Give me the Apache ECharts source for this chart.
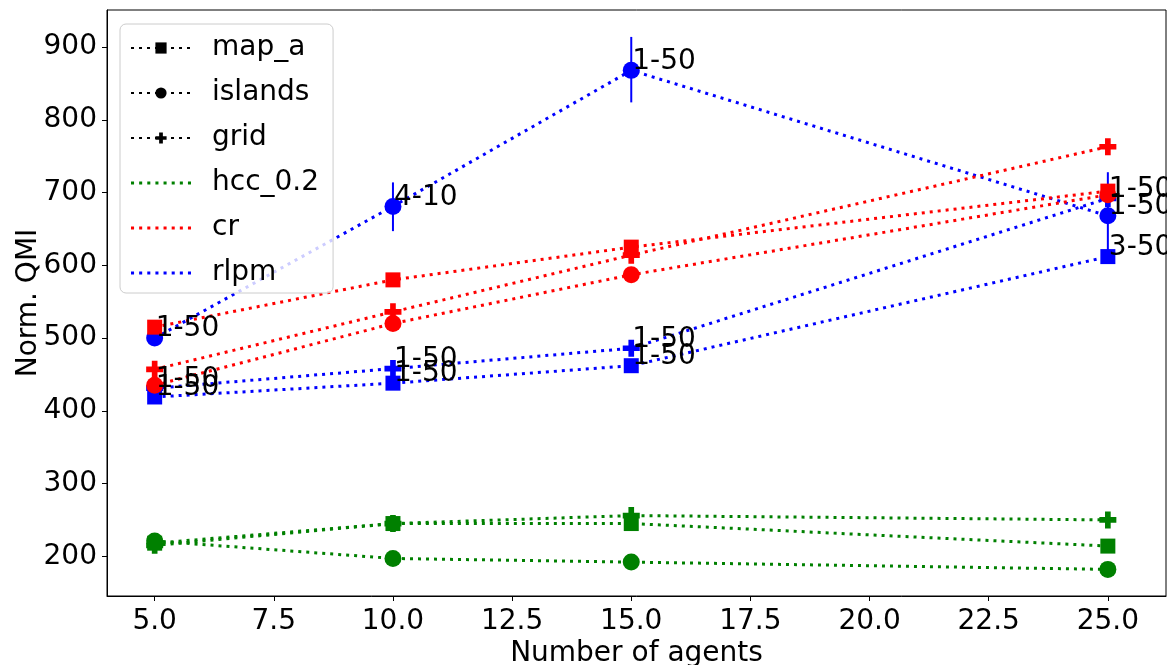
<!DOCTYPE html>
<html>
<head>
<meta charset="utf-8">
<script src="https://cdn.jsdelivr.net/npm/echarts@6/dist/echarts.min.js"></script>
<style>html,body{margin:0;padding:0;background:#fff}#c{width:1176px;height:665px}</style>
</head>
<body>
<div id="c"></div>
<script>
// ---- data ----
var agents = [5, 10, 15, 25];
var xTicks = [5, 7.5, 10, 12.5, 15, 17.5, 20, 22.5, 25];
var yTicks = [200, 300, 400, 500, 600, 700, 800, 900];

var rlpmMapA    = [419, 438, 462, 612];
var rlpmIslands = [500, 681, 868, 668];
var rlpmGrid    = [431, 458, 486, 692];
var crMapA      = [515, 580, 625, 702];
var crIslands   = [435, 520, 587, 697];
var crGrid      = [457, 536, 614, 763];
var hccMapA     = [218, 245, 245, 214];
var hccIslands  = [221, 197, 192, 182];
var hccGrid     = [215, 245, 256, 250];

// error bars of rlpm islands: [x, low, high]
var rlpmIslandsErr = [[10, 647, 714], [15, 824, 914], [25, 608, 728]];

var rlpmMapALabels    = ['1-50', '1-50', '1-50', '3-50'];
var rlpmIslandsLabels = ['1-50', '4-10', '1-50', '1-50'];
var rlpmGridLabels    = ['1-50', '1-50', '1-50', '1-50'];

var legendMarkerNames = ['map_a', 'islands', 'grid'];
var legendMethodNames = ['hcc_0.2', 'cr', 'rlpm'];

// ---- styles ----
var FONT = 'DejaVu Sans';
var FS = 28;
var PLUS = 'path://M1,0H2V1H3V2H2V3H1V2H0V1H1Z';
var mapSymbols = { map_a: ['rect', 15], islands: ['circle', 17], grid: [PLUS, 17] };
var DASH = [3, 5];
// dotted-line legend icon (8 dots of 3px with 5px gaps)
var DOTTED_ICON = 'path://M0,0h3v3h-3zM8,0h3v3h-3zM16,0h3v3h-3zM24,0h3v3h-3zM32,0h3v3h-3zM40,0h3v3h-3zM48,0h3v3h-3zM56,0h3v3h-3z';

function pairs(vals) {
  return agents.map(function (x, i) { return [x, vals[i]]; });
}

function dataSeries(name, color, mapKey, vals, labels) {
  var sym = mapSymbols[mapKey];
  var s = {
    name: name,
    type: 'line',
    data: pairs(vals),
    symbol: sym[0],
    symbolSize: sym[1],
    symbolKeepAspect: true,
    showAllSymbol: true,
    itemStyle: { color: color, opacity: 1 },
    lineStyle: { color: color, width: 3, type: DASH },
    emphasis: { disabled: true },
    animation: false,
    z: 3
  };
  if (labels) {
    var h = sym[1] / 2;
    s.label = {
      show: true,
      position: [h + 1, h + 5],
      align: 'left',
      verticalAlign: 'bottom',
      formatter: function (p) { return labels[p.dataIndex]; },
      color: '#000',
      fontFamily: FONT,
      fontSize: FS
    };
  }
  return s;
}

function legendSeries(name, color, mapKey) {
  var s = {
    name: name,
    type: 'line',
    data: [],
    itemStyle: { color: color },
    lineStyle: { color: color, width: 3, type: DASH }
  };
  if (mapKey) {
    s.symbol = mapSymbols[mapKey][0];
    s.symbolSize = 10;
    s.symbolKeepAspect = true;
  } else {
    s.symbol = 'none';
  }
  return s;
}

var legendData = legendMarkerNames.map(function (n) { return { name: n }; })
  .concat(legendMethodNames.map(function (n) { return { name: n, icon: DOTTED_ICON }; }));

var series = [
  dataSeries('rlpm map_a', '#0000ff', 'map_a', rlpmMapA, rlpmMapALabels),
  dataSeries('rlpm islands', '#0000ff', 'islands', rlpmIslands, rlpmIslandsLabels),
  dataSeries('rlpm grid', '#0000ff', 'grid', rlpmGrid, rlpmGridLabels),
  dataSeries('cr map_a', '#ff0000', 'map_a', crMapA),
  dataSeries('cr islands', '#ff0000', 'islands', crIslands),
  dataSeries('cr grid', '#ff0000', 'grid', crGrid),
  dataSeries('hcc map_a', '#008000', 'map_a', hccMapA),
  dataSeries('hcc islands', '#008000', 'islands', hccIslands),
  dataSeries('hcc grid', '#008000', 'grid', hccGrid),
  {
    name: 'rlpm islands err',
    type: 'custom',
    data: rlpmIslandsErr,
    encode: { x: 0, y: [1, 2] },
    renderItem: function (params, api) {
      var a = api.coord([api.value(0), api.value(1)]);
      var b = api.coord([api.value(0), api.value(2)]);
      return {
        type: 'line',
        shape: { x1: a[0], y1: a[1], x2: b[0], y2: b[1] },
        style: { stroke: '#0000ff', lineWidth: 2 }
      };
    },
    z: 2,
    animation: false
  },
  legendSeries('map_a', '#000', 'map_a'),
  legendSeries('islands', '#000', 'islands'),
  legendSeries('grid', '#000', 'grid'),
  legendSeries('hcc_0.2', '#008000'),
  legendSeries('cr', '#ff0000'),
  legendSeries('rlpm', '#0000ff')
];

var chart = echarts.init(document.getElementById('c'), null, { renderer: 'canvas' });
chart.setOption({
  animation: false,
  backgroundColor: '#fff',
  textStyle: { fontFamily: FONT },
  grid: {
    left: 107, right: 10, top: 10, bottom: 69,
    outerBoundsMode: 'none',
    containLabel: false,
    show: true, borderColor: '#000', borderWidth: 1, backgroundColor: 'transparent'
  },
  // white margin on the right hides annotation text that runs past the plot frame
  graphic: [{
    type: 'rect',
    right: 0, top: 0,
    shape: { width: 9, height: 665 },
    style: { fill: '#fff' },
    z: 100,
    silent: true
  }],
  legend: {
    data: legendData,
    orient: 'vertical',
    left: 120,
    top: 24,
    itemWidth: 60,
    itemHeight: 14,
    itemGap: 17,
    symbolKeepAspect: true,
    padding: [10, 14, 6, 10],
    borderColor: '#cccccc',
    borderWidth: 1,
    borderRadius: 6,
    backgroundColor: 'rgba(255,255,255,0.8)',
    selectedMode: false,
    textStyle: { fontFamily: FONT, fontSize: FS, color: '#000', padding: [0, 0, 0, 16] }
  },
  xAxis: {
    type: 'value',
    min: 4, max: 26.22,
    name: 'Number of agents',
    nameLocation: 'middle',
    nameGap: 44,
    nameMoveOverlap: false,
    nameTextStyle: { fontFamily: FONT, fontSize: FS, color: '#000' },
    axisLine: { show: true, lineStyle: { color: '#000' } },
    axisTick: { show: true, length: 5, customValues: xTicks, lineStyle: { color: '#000' } },
    axisLabel: {
      customValues: xTicks,
      formatter: function (v) { return Number(v).toFixed(1); },
      fontFamily: FONT, fontSize: FS, color: '#000', margin: 12
    },
    splitLine: { show: false }
  },
  yAxis: {
    type: 'value',
    min: 145.4, max: 951,
    name: 'Norm. QMI',
    nameLocation: 'middle',
    nameGap: 64,
    nameMoveOverlap: false,
    nameRotate: 90,
    nameTextStyle: { fontFamily: FONT, fontSize: FS, color: '#000' },
    axisLine: { show: true, lineStyle: { color: '#000' } },
    axisTick: { show: true, length: 5, customValues: yTicks, lineStyle: { color: '#000' } },
    axisLabel: {
      customValues: yTicks,
      fontFamily: FONT, fontSize: FS, color: '#000', margin: 10
    },
    splitLine: { show: false }
  },
  series: series
});
</script>
</body>
</html>
